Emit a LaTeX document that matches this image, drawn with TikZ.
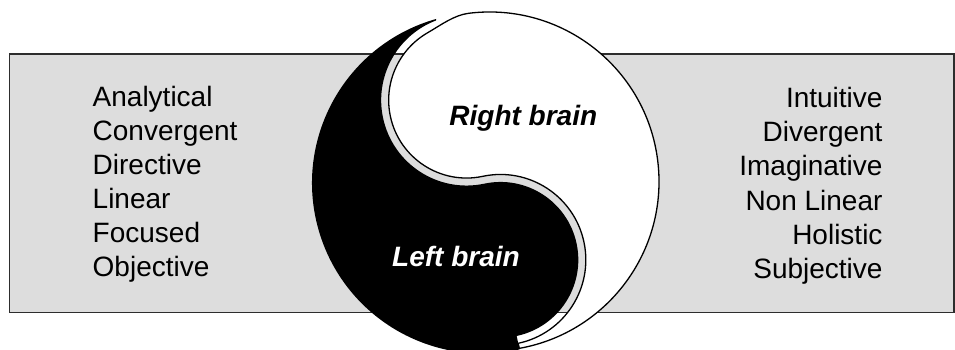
\documentclass[tikz,border=0pt]{standalone}
\usepackage{fontspec}
\setmainfont{Liberation Sans}
\definecolor{panelgray}{RGB}{221,221,221}
\definecolor{edgegray}{RGB}{45,45,45}
\begin{document}
\begin{tikzpicture}[x=1pt,y=-1pt,
  listtext/.style={inner sep=0pt, font=\fontsize{28}{34}\selectfont},
  brainlabel/.style={inner sep=0pt, font=\fontsize{28}{34}\selectfont\bfseries\itshape},
  panel/.style={fill=panelgray, draw=edgegray, line width=1.2},
  lighthalf/.style={fill=white, draw=black, line width=1.3, line join=round},
  darkhalf/.style={fill=black}]
\useasboundingbox (0,0) rectangle (955,350);
\clip (0,0) rectangle (955,350);
% background panel
\draw[panel] (9.5,54) rectangle (954,312.7);
% white (right brain) half
\draw[lighthalf] (468.84,13.26) arc[start angle=263, end angle=439.88, radius=169.5]
  -- (518.21,343.3) arc[start angle=78, end angle=-102, radius=85.35]
  arc[start angle=78, end angle=240, radius=77.85]
  .. controls (440.6,25.27) and (453.95,15.09) .. (468.84,13.26) -- cycle;
% black (left brain) half
\fill[darkhalf] (436,19) arc[start angle=254.17, end angle=77.46, radius=170.5]
  -- (516.65,335.96) arc[start angle=78, end angle=-102, radius=77.85]
  arc[start angle=78, end angle=249.04, radius=85.35] -- cycle;
% left list
\node[listtext, anchor=base west] (l1) at (92.5,106.7) {Analytical};
\node[listtext, anchor=base west] (l2) at (92.5,140.7) {Convergent};
\node[listtext, anchor=base west] (l3) at (92.5,174.7) {Directive};
\node[listtext, anchor=base west] (l4) at (92.5,208.7) {Linear};
\node[listtext, anchor=base west] (l5) at (92.5,242.7) {Focused};
\node[listtext, anchor=base west] (l6) at (92.5,276.7) {Objective};
% right list
\node[listtext, anchor=base east] (r1) at (882.7,107.7) {Intuitive};
\node[listtext, anchor=base east] (r2) at (882.7,141.8) {Divergent};
\node[listtext, anchor=base east] (r3) at (882.7,175.9) {Imaginative};
\node[listtext, anchor=base east] (r4) at (882.7,210.0) {Non Linear};
\node[listtext, anchor=base east] (r5) at (882.7,244.1) {Holistic};
\node[listtext, anchor=base east] (r6) at (882.7,278.2) {Subjective};
% labels
\node[brainlabel, anchor=base] (rb) at (523.3,125) {Right brain};
\node[brainlabel, anchor=base, text=white] (lb) at (456,266.7) {Left brain};
\end{tikzpicture}
\end{document}
